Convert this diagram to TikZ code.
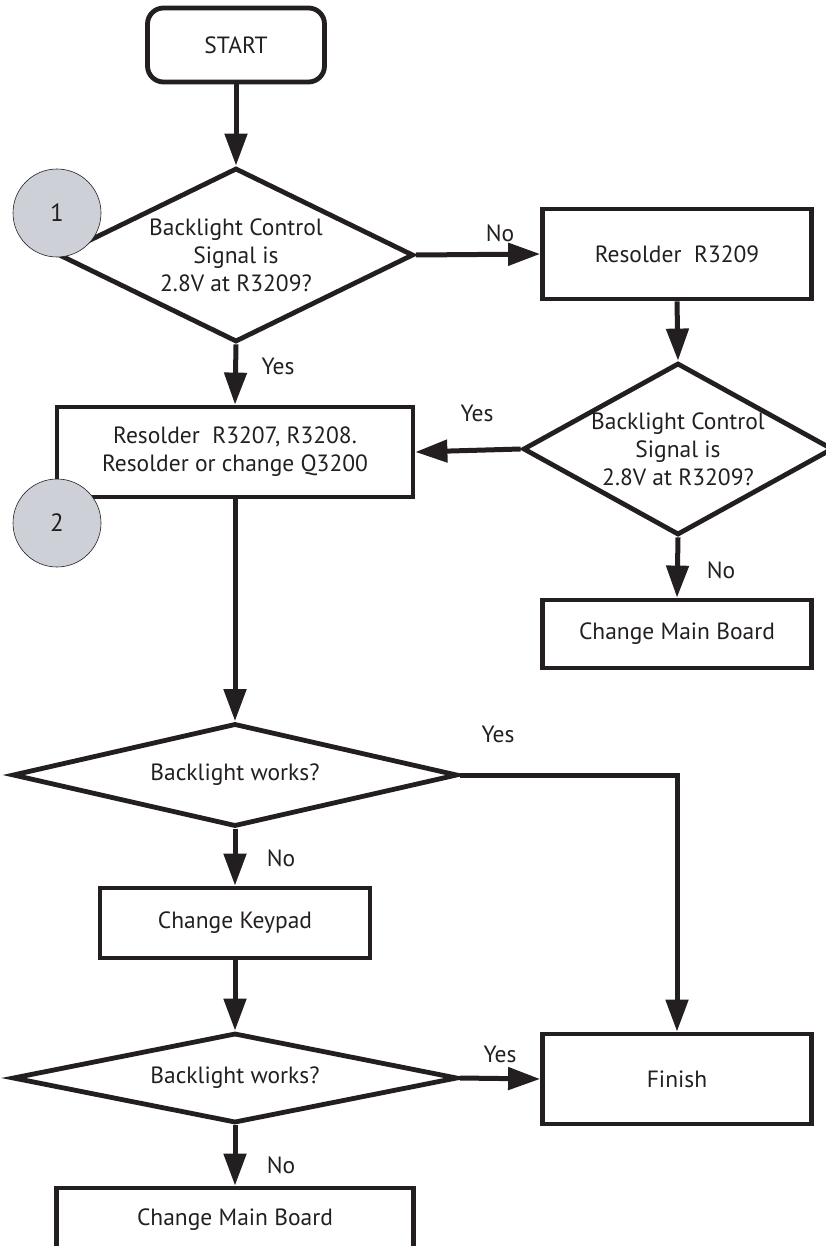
\documentclass[tikz,border=0pt]{standalone}
\usepackage{fontspec}
\setmainfont{PT Sans}
\usetikzlibrary{arrows.meta,shapes.geometric}
\definecolor{ink}{RGB}{35,31,32}
\definecolor{bubble}{RGB}{205,208,214}
\tikzset{
  every node/.style={font=\fontsize{23.5}{28}\selectfont, text=ink, align=center},
  procbox/.style={draw=ink, line width=4.8pt, rectangle, inner sep=0pt},
  termbox/.style={draw=ink, line width=4.8pt, rectangle, rounded corners=16pt, inner sep=0pt, minimum width=177pt, minimum height=74pt},
  decision/.style={draw=ink, line width=4.8pt, diamond, inner sep=0pt},
  bubblenode/.style={draw=ink, line width=0.6pt, circle, fill=bubble, minimum size=88pt, inner sep=0pt, font=\fontsize{25}{28}\selectfont},
  flow/.style={draw=ink, line width=5pt, -{Triangle[length=32pt,width=22pt]}},
  lbl/.style={font=\fontsize{23.5}{26}\selectfont, inner sep=0pt},
}
\begin{document}
\begin{tikzpicture}[x=1pt,y=-1pt]
\useasboundingbox (0,0) rectangle (826,1246);
% nodes
\node[termbox] (start) at (236,45) {START};
\node[decision, minimum width=355pt, minimum height=174pt] (d1) at (236,255) {};
\node (d1t) at (236,255) {Backlight Control\\Signal is\\2.8V at R3209?};
\node[procbox, minimum width=269pt, minimum height=90pt] (b1) at (677,254) {Resolder\ \ R3209};
\node[decision, minimum width=310pt, minimum height=172pt] (d2) at (678,449) {};
\node (d2t) at (678,449) {Backlight Control\\Signal is\\2.8V at R3209?};
\node[procbox, minimum width=356pt, minimum height=90pt] (b2) at (235,452) {Resolder\ \ R3207, R3208.\\Resolder or change Q3200};
\node[procbox, minimum width=269pt, minimum height=68pt] (b3) at (677,634) {Change Main Board};
\node[decision, minimum width=445pt, minimum height=103pt] (d3) at (235,775) {};
\node (d3t) at (235,775) {Backlight works?};
\node[procbox, minimum width=270pt, minimum height=70pt] (b4) at (235,923) {Change Keypad};
\node[decision, minimum width=445pt, minimum height=90pt] (d4) at (235,1078) {};
\node (d4t) at (235,1078) {Backlight works?};
\node[procbox, minimum width=269pt, minimum height=90pt] (b5) at (677,1079) {Finish};
\node[procbox, minimum width=357pt, minimum height=72pt] (b6) at (235,1224) {};
\node (b6t) at (235,1220) {Change Main Board};
% connectors
\draw[flow] (start) -- (d1.north);
\draw[flow] (d1.east) -- (b1.west);
\draw[flow] (b1.south) -- (d2.north);
\draw[flow] (d2.west) -- (b2.east);
\draw[flow] (d1.south) -- (b2.north);
\draw[flow] (d2.south) -- (b3.north);
\draw[flow] (b2.south) -- (d3.north);
\draw[flow] (d3.east) -| (b5.north);
\draw[flow] (d3.south) -- (b4.north);
\draw[flow] (b4.south) -- (d4.north);
\draw[flow] (d4.east) -- (b5.west);
\draw[flow] (d4.south) -- (b6.north);
% labels
\node[lbl] (l1) at (500,233) {No};
\node[lbl] (l2) at (278,366) {Yes};
\node[lbl] (l3) at (477,413) {Yes};
\node[lbl] (l4) at (721,570) {No};
\node[lbl] (l5) at (498,734) {Yes};
\node[lbl] (l6) at (281,858) {No};
\node[lbl] (l7) at (500,1054) {Yes};
\node[lbl] (l8) at (281,1165) {No};
% bubbles
\node[bubblenode] (c1) at (57,213) {1};
\node[bubblenode] (c2) at (57,523) {2};
\end{tikzpicture}
\end{document}
